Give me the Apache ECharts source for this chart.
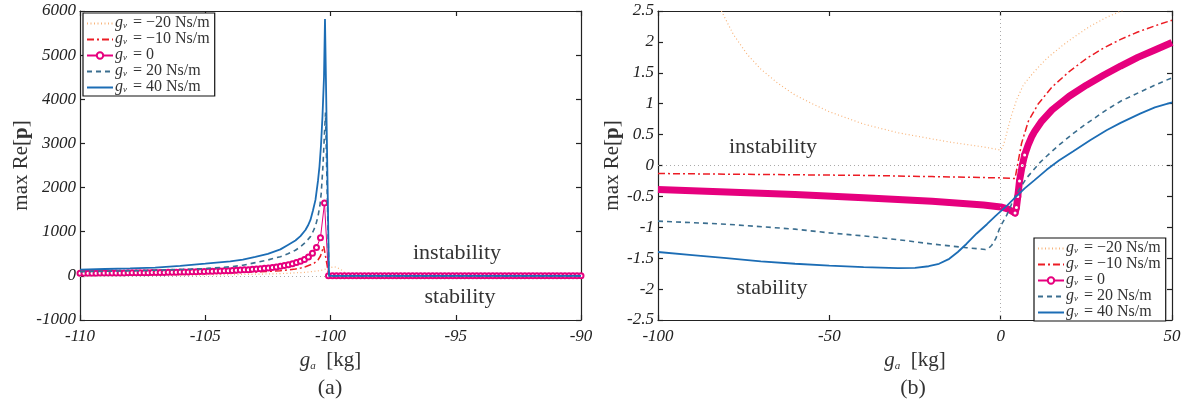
<!DOCTYPE html>
<html><head><meta charset="utf-8">
<script src="https://cdn.jsdelivr.net/npm/echarts@6/dist/echarts.min.js"></script>
<style>html,body{margin:0;padding:0;background:#fff}#c{width:1194px;height:405px}</style>
</head><body><div id="c"></div>
<script>
// ---------- Panel (a): g_a from -110 to -90 ----------
const aXm20 = [-110, -106, -104, -102, -101, -100.4, -100.1, -99.85, -99.6, -99.4, -99.2, -90];
const aYm20 = [5, 12, 25, 50, 80, 120, 170, 210, 150, 60, 0, 0];

const aXm10 = [-110, -108, -106, -105, -104, -103, -102.5, -102, -101.7, -101.4, -101.2, -101, -100.8, -100.65, -100.5, -100.4, -100.27, -100.06, -90];
const aYm10 = [42, 48, 57, 63, 72, 88, 100, 117, 132, 155, 175, 208, 250, 290, 359, 450, 670, 0, 0];

const aX0 = [-110, -109.84, -109.68, -109.52, -109.36, -109.2, -109.04, -108.88, -108.72, -108.56, -108.4, -108.24, -108.08,
  -107.92, -107.76, -107.6, -107.44, -107.28, -107.12, -106.96, -106.8, -106.64, -106.48, -106.32, -106.16, -106,
  -105.84, -105.68, -105.52, -105.36, -105.2, -105.04, -104.88, -104.72, -104.56, -104.4, -104.24, -104.08,
  -103.92, -103.76, -103.6, -103.44, -103.28, -103.12, -102.96, -102.8, -102.64, -102.48, -102.32, -102.16, -102,
  -101.84, -101.68, -101.52, -101.36, -101.2, -101.04, -100.88, -100.72, -100.56, -100.4, -100.24, -100.08,
  -99.92, -99.76, -99.6, -99.44, -99.28, -99.12, -98.96, -98.8, -98.64, -98.48, -98.32, -98.16,
  -98, -97.84, -97.68, -97.52, -97.36, -97.2, -97.04, -96.88, -96.72, -96.56, -96.4, -96.24, -96.08,
  -95.92, -95.76, -95.6, -95.44, -95.28, -95.12, -94.96, -94.8, -94.64, -94.48, -94.32, -94.16,
  -94, -93.84, -93.68, -93.52, -93.36, -93.2, -93.04, -92.88, -92.72, -92.56, -92.4, -92.24, -92.08,
  -91.92, -91.76, -91.6, -91.44, -91.28, -91.12, -90.96, -90.8, -90.64, -90.48, -90.32, -90.16, -90];
const aY0 = [59, 59, 60, 61, 61, 62, 63, 64, 64, 65, 66, 67, 68,
  69, 70, 71, 72, 73, 74, 76, 77, 78, 80, 81, 83, 85,
  87, 89, 91, 93, 96, 99, 102, 105, 108, 111, 114, 117,
  121, 126, 131, 136, 141, 147, 154, 162, 170, 180, 191, 203, 217,
  233, 252, 276, 302, 332, 368, 425, 510, 640, 865, 1650, 0,
  0, 0, 0, 0, 0, 0, 0, 0, 0, 0, 0, 0,
  0, 0, 0, 0, 0, 0, 0, 0, 0, 0, 0, 0, 0,
  0, 0, 0, 0, 0, 0, 0, 0, 0, 0, 0, 0,
  0, 0, 0, 0, 0, 0, 0, 0, 0, 0, 0, 0, 0,
  0, 0, 0, 0, 0, 0, 0, 0, 0, 0, 0, 0, 0];

const aX20 = [-110, -109, -108, -107, -106, -105, -104, -103.5, -103, -102.5, -102, -101.7, -101.4, -101.2, -101, -100.8, -100.7, -100.6, -100.5, -100.42, -100.37, -100.3, -100.24, -100.2, -100.06, -90];
const aY20 = [95, 105, 115, 128, 145, 165, 205, 240, 300, 360, 435, 500, 580, 660, 760, 889, 1000, 1130, 1343, 1600, 1873, 2500, 3235, 3700, 0, 0];

const aX40 = [-110, -109, -108, -107, -106, -105, -104, -103.5, -103, -102.5, -102, -101.7, -101.4, -101.2, -101, -100.9, -100.8, -100.7, -100.6, -100.5, -100.44, -100.38, -100.32, -100.26, -100.22, -100.06, -90];
const aY40 = [140, 155, 168, 185, 225, 275, 330, 370, 430, 500, 600, 700, 800, 900, 1040, 1140, 1267, 1480, 1721, 2150, 2478, 2950, 3614, 4500, 5820, 0, 0];

// ---------- Panel (b): g_a from -100 to 50 ----------
const bXm20 = [-81.5, -78, -74, -70, -65, -60, -55, -50, -45, -40, -35, -30, -25, -20, -15, -10, -5, 0, 0.6, 1.3, 2.2, 3.2, 4.7, 6.6, 9.5, 11.5, 13.4, 18, 21.2, 26, 31, 36];
const bYm20 = [2.5, 2.12, 1.8, 1.56, 1.33, 1.14, 1.0, 0.87, 0.77, 0.67, 0.6, 0.53, 0.48, 0.43, 0.38, 0.34, 0.3, 0.25, 0.3, 0.42, 0.62, 0.82, 1.07, 1.3, 1.5, 1.62, 1.73, 1.94, 2.07, 2.25, 2.4, 2.52];

const bXm10 = [-100, -80, -60, -40, -20, 0, 4.2, 5.2, 6.1, 8.1, 11, 15, 20, 25, 30, 35, 40, 45, 50];
const bYm10 = [-0.13, -0.14, -0.15, -0.16, -0.18, -0.2, -0.21, 0.09, 0.36, 0.72, 1.0, 1.27, 1.52, 1.73, 1.9, 2.04, 2.16, 2.26, 2.35];

const bX0 = [-100, -80, -60, -40, -20, -10, -5, 0, 2, 4.2, 4.6, 5.0, 5.5, 6.3, 7, 8, 9, 10, 12, 15, 20, 25, 30, 35, 40, 45, 50];
const bY0 = [-0.39, -0.43, -0.47, -0.52, -0.58, -0.62, -0.64, -0.67, -0.7, -0.77, -0.68, -0.5, -0.25, 0.0, 0.17, 0.33, 0.46, 0.56, 0.72, 0.9, 1.12, 1.3, 1.46, 1.61, 1.75, 1.87, 1.99];

const bX20 = [-100, -80, -60, -50, -40, -30, -20, -10, -6, -4.5, -3.5, -2.6, -1.4, -0.2, 1.8, 3.7, 5.5, 7.6, 11.5, 13.4, 17, 21.2, 25.1, 30.9, 35, 40.7, 45, 50];
const bY20 = [-0.9, -0.95, -1.03, -1.09, -1.14, -1.2, -1.27, -1.33, -1.35, -1.36, -1.34, -1.29, -1.18, -1.0, -0.8, -0.56, -0.38, -0.2, 0.05, 0.15, 0.33, 0.52, 0.68, 0.9, 1.04, 1.19, 1.3, 1.42];

const bX40 = [-100, -90, -80, -70, -60, -50, -40, -30, -25, -21, -18, -15, -12.5, -10, -7, -4, -1.4, 2, 4.2, 7, 9.8, 13.4, 17, 21.2, 26.1, 30.9, 35, 40.7, 45, 50];
const bY40 = [-1.4, -1.45, -1.5, -1.55, -1.59, -1.62, -1.645, -1.66, -1.655, -1.63, -1.59, -1.51, -1.4, -1.27, -1.1, -0.95, -0.81, -0.64, -0.52, -0.37, -0.24, -0.07, 0.08, 0.23, 0.41, 0.57, 0.69, 0.84, 0.94, 1.02];

// ---------- Labels ----------
const seriesNames = ['gv=-20', 'gv=-10', 'gv=0', 'gv=20', 'gv=40'];
const legendTexts = [' = \u221220 Ns/m', ' = \u221210 Ns/m', ' = 0', ' = 20 Ns/m', ' = 40 Ns/m'];

const FONT = 'Liberation Serif';
const colors = ['#f8b47a', '#ec1c24', '#e6007e', '#3b6e8f', '#1c6db5'];
const lineStyles = [
  {type: [1, 2.5], width: 1.2},
  {type: [7, 3, 2, 3], width: 1.5},
  {type: 'solid', width: 1},
  {type: [5, 4], width: 1.6},
  {type: 'solid', width: 1.8}
];

function pairs(xs, ys) {
  const n = Math.min(xs.length, ys.length), out = [];
  for (let i = 0; i < n; i++) out.push([xs[i], ys[i]]);
  return out;
}

const chart = echarts.init(document.getElementById('c'), null, {renderer: 'canvas'});

const axisLineStyle = {color: '#222', width: 1.2};
function xAx(grid, min, max, interval, pos, showLabel) {
  return {
    gridIndex: grid, type: 'value', min, max, interval, position: pos,
    axisLine: {show: true, onZero: false, lineStyle: axisLineStyle},
    axisTick: {show: true, inside: true, length: 5, lineStyle: axisLineStyle},
    axisLabel: {show: showLabel, fontFamily: FONT, fontStyle: 'italic', fontSize: 17, color: '#222', margin: 8,
      formatter: v => String(v)},
    splitLine: {show: false},
    name: showLabel ? '{g|g}{s|a}{n|  [kg]}' : '',
    nameLocation: 'middle', nameGap: 19,
    nameTextStyle: {rich: {
      g: {fontFamily: FONT, fontStyle: 'italic', fontSize: 21, color: '#333', lineHeight: 22},
      s: {fontFamily: FONT, fontStyle: 'italic', fontSize: 11, color: '#333', verticalAlign: 'bottom', lineHeight: 14},
      n: {fontFamily: FONT, fontSize: 21, color: '#333', lineHeight: 22}
    }}
  };
}
function yAx(grid, min, max, interval, pos, showLabel, gap) {
  return {
    gridIndex: grid, type: 'value', min, max, interval, position: pos,
    axisLine: {show: true, onZero: false, lineStyle: axisLineStyle},
    axisTick: {show: true, inside: true, length: 5, lineStyle: axisLineStyle},
    axisLabel: {show: showLabel, fontFamily: FONT, fontStyle: 'italic', fontSize: 17, color: '#222', margin: 4,
      formatter: v => String(v)},
    splitLine: {show: false},
    name: showLabel ? '{n|max Re[}{b|p}{n|]}' : '',
    nameLocation: 'middle', nameGap: gap, nameRotate: 90,
    nameTextStyle: {rich: {
      n: {fontFamily: FONT, fontSize: 21, color: '#333'},
      b: {fontFamily: FONT, fontSize: 21, fontWeight: 'bold', color: '#333'}
    }}
  };
}

const series = [];
const aData = [[aXm20, aYm20], [aXm10, aYm10], [aX0, aY0], [aX20, aY20], [aX40, aY40]];
const bData = [[bXm20, bYm20], [bXm10, bYm10], [bX0, bY0], [bX20, bY20], [bX40, bY40]];

aData.forEach((d, i) => {
  const s = {
    name: seriesNames[i], type: 'line', xAxisIndex: 0, yAxisIndex: 0,
    data: pairs(d[0], d[1]), color: colors[i],
    lineStyle: Object.assign({color: colors[i]}, lineStyles[i]),
    showSymbol: i === 2, symbol: i === 2 ? 'emptyCircle' : 'none', symbolSize: 5,
    itemStyle: {color: colors[i], borderWidth: 1}, animation: false, silent: true, z: 2 + i
  };
  if (i === 0) {
    s.markLine = {silent: true, symbol: 'none', label: {show: false}, animation: false,
      lineStyle: {color: '#aaa', type: [1, 3], width: 1}, data: [{yAxis: 0}]};
  }
  series.push(s);
});
bData.forEach((d, i) => {
  let data = pairs(d[0], d[1]);
  const s = {
    name: seriesNames[i], type: 'line', xAxisIndex: 2, yAxisIndex: 2,
    data, color: colors[i],
    lineStyle: Object.assign({color: colors[i]}, lineStyles[i]),
    showSymbol: false, symbol: 'none', animation: false, silent: true, z: 2 + i
  };
  if (i === 2) {
    s.lineStyle = {color: colors[i], width: 7, join: 'round', cap: 'butt'};
    s.showSymbol = true; s.symbol = 'none';
    s.data = data.map(p => (p[0] > 4 && p[0] < 7.5)
      ? {value: p, symbol: 'emptyCircle', symbolSize: 5, itemStyle: {color: colors[i], borderColor: colors[i], borderWidth: 1}}
      : {value: p});
  }
  if (i === 0) {
    s.markLine = {silent: true, symbol: 'none', label: {show: false}, animation: false,
      lineStyle: {color: '#aaa', type: [1, 3], width: 1}, data: [{yAxis: 0}, {xAxis: 0}]};
  }
  series.push(s);
});

function legendCfg(left, top) {
  return {
    orient: 'vertical', left, top, selectedMode: false,
    data: seriesNames.map((n, i) => i === 2 ? {name: n} : {name: n, itemStyle: {opacity: 0}}),
    itemWidth: 26, itemHeight: 8, itemGap: 0,
    padding: [2, 5, 1, 3], borderColor: '#111', borderWidth: 1.2, backgroundColor: '#fff', borderRadius: 0,
    formatter: name => '{g|g}{s|v}{t|' + legendTexts[seriesNames.indexOf(name)] + '}',
    textStyle: {fontFamily: FONT, fontSize: 16, color: '#333', padding: [0, 0, 0, -3], lineHeight: 14, height: 15,
      rich: {
        g: {fontFamily: FONT, fontStyle: 'italic', fontSize: 16, color: '#333', lineHeight: 14, height: 14},
        s: {fontFamily: FONT, fontStyle: 'italic', fontSize: 9, color: '#333', verticalAlign: 'bottom', lineHeight: 8, height: 8, padding: [0, 2, 0, 0]},
        t: {fontFamily: FONT, fontSize: 16, color: '#333', lineHeight: 14, height: 14}
      }}
  };
}

const txt = (text, x, y, size) => ({type: 'text', x, y, silent: true,
  style: {text, font: size + 'px "' + FONT + '"', fill: '#333', align: 'center', verticalAlign: 'middle'}});

chart.setOption({
  backgroundColor: '#fff',
  animation: false,
  grid: [
    {left: 80, top: 11, width: 501, height: 309, containLabel: false},
    {left: 658, top: 11, width: 514, height: 309, containLabel: false}
  ],
  xAxis: [
    xAx(0, -110, -90, 5, 'bottom', true), xAx(0, -110, -90, 5, 'top', false),
    xAx(1, -100, 50, 50, 'bottom', true), xAx(1, -100, 50, 50, 'top', false)
  ],
  yAxis: [
    yAx(0, -1000, 6000, 1000, 'left', true, 47), yAx(0, -1000, 6000, 1000, 'right', false, 0),
    yAx(1, -2.5, 2.5, 0.5, 'left', true, 33), yAx(1, -2.5, 2.5, 0.5, 'right', false, 0)
  ],
  legend: [legendCfg(83, 13), legendCfg(1034, 238)],
  series,
  graphic: [
    txt('instability', 457, 253, 22), txt('stability', 460, 297, 22),
    txt('instability', 773, 147, 22), txt('stability', 772, 288, 22),
    txt('(a)', 330, 388, 22), txt('(b)', 913, 388, 22)
  ]
});
</script></body></html>
